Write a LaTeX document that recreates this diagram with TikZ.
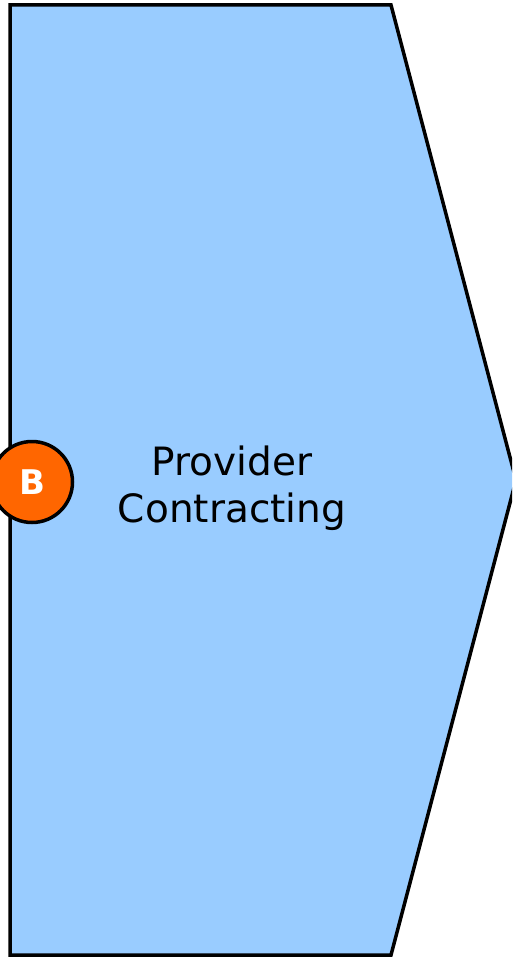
\documentclass[tikz,border=0pt]{standalone}
\usepackage{fontspec}
\setmainfont{DejaVu Sans}
\definecolor{stagefill}{HTML}{99CCFF}
\definecolor{badgefill}{HTML}{FF6600}
\begin{document}
\begin{tikzpicture}[x=1pt,y=-1pt,
  stage/.style={draw=black,fill=stagefill,line width=3.5pt,line join=miter},
  badge/.style={circle,draw=black,fill=badgefill,line width=3.5pt,minimum size=81pt,inner sep=0pt,
    text=white,font=\fontsize{34}{38}\selectfont\bfseries},
  label/.style={align=center,inner sep=0pt,font=\fontsize{39}{47}\selectfont}]
  \useasboundingbox (0,0) rectangle (512,958);
  \begin{scope}
    \clip (0,0) rectangle (512,958);
    % chevron-shaped process stage
    \draw[stage] (10,5) -- (391,5) -- (516,480) -- (391,955) -- (10,955) -- cycle;
    % stage text
    \node[label] (title) at (232,488) {Provider\\Contracting};
    % lettered marker on the left edge
    \node[badge] (mark) at (32,482) {B};
  \end{scope}
\end{tikzpicture}
\end{document}
